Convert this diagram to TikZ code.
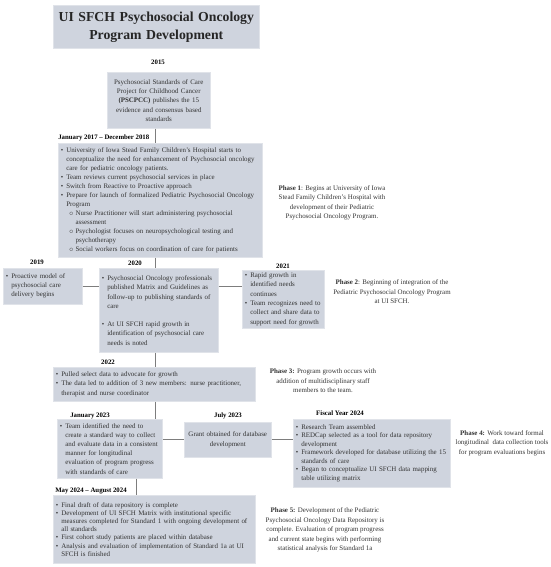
\documentclass[tikz,border=0pt]{standalone}
\usepackage{fontspec}
\setmainfont{Liberation Serif}
\usepackage{xcolor}
\usepackage{tikz}
\usetikzlibrary{calc}

\definecolor{boxfill}{RGB}{207,212,222}
\definecolor{boxline}{RGB}{224,227,233}
\definecolor{linkgray}{RGB}{125,125,125}
\definecolor{txtgray}{RGB}{50,50,50}

\newcommand{\bl}{\makebox[4pt][l]{\textbullet}}
\newcommand{\ind}{\hspace*{4pt}}
\newcommand{\sbl}{\hspace*{6pt}\makebox[5pt][l]{$\scriptscriptstyle\circ$}}
\newcommand{\sind}{\hspace*{11pt}}

\begin{document}
\begin{tikzpicture}[x=0.75pt,y=0.75pt,yscale=-1,xscale=1,
  tlbox/.style={fill=boxfill, draw=boxline, line width=0.4pt, anchor=north west, inner xsep=2pt, inner ysep=1.5pt, align=left, text=txtgray, font=\fontsize{5.2}{7}\selectfont},
  yearlbl/.style={inner sep=0.75pt, font=\fontsize{5.1}{6.5}\selectfont\bfseries},
  phasetxt/.style={align=center, inner sep=0.75pt, text=txtgray, font=\fontsize{5.2}{7.1}\selectfont},
  link/.style={draw=linkgray, line width=0.75pt}]

\useasboundingbox (0,0) rectangle (550,567);

\coordinate (spine) at (155,0);

% boxes
\node (title) at (53,5) [tlbox, minimum width=154.5pt, minimum height=32.25pt, text width=150.5pt, align=center, text=black!85, font=\fontsize{10.3}{13.5}\selectfont\bfseries] {UI SFCH Psychosocial Oncology\\Program Development};

\node (b2015) at (107,72) [tlbox, minimum height=42pt, text width=73.25pt, align=center] {Psychosocial Standards of Care\\Project for Childhood Cancer\\\textbf{(PSCPCC)} publishes the 15\\evidence and consensus based\\standards};

\node (jan17) at (58,143) [tlbox, minimum height=85.5pt, text width=149pt, font=\fontsize{5.2}{6.75}\selectfont] {\bl University of Iowa Stead Family Children’s Hospital starts to\\
\ind conceptualize the need for enhancement of Psychosocial oncology\\
\ind care for pediatric oncology patients.\\
\bl Team reviews current psychosocial services in place\\
\bl Switch from Reactive to Proactive approach\\
\bl Prepare for launch of formalized Pediatric Psychosocial Oncology\\
\ind Program\\
\sbl Nurse Practitioner will start administering psychosocial\\
\sind assessment\\
\sbl Psychologist focuses on neuropsychological testing and\\
\sind psychotherapy\\
\sbl Social workers focus on coordination of care for patients};

\node (b2019) at (3,268) [tlbox, minimum height=27pt, text width=55.25pt, font=\fontsize{5.2}{6.75}\selectfont] {\bl Proactive model of\\\ind psychosocial care\\\ind delivery begins};

\node (b2020) at (99,268) [tlbox, minimum height=63pt, text width=85.25pt, font=\fontsize{5.2}{7.1}\selectfont] {\bl Psychosocial Oncology professionals\\
\ind published Matrix and Guidelines as\\
\ind follow-up to publishing standards of\\
\ind care\\[6pt]
\bl At UI SFCH rapid growth in\\
\ind identification of psychosocial care\\
\ind needs is noted};

\node (b2021) at (242,270) [tlbox, minimum height=43.5pt, text width=57.5pt, font=\fontsize{5.2}{7}\selectfont] {\bl Rapid growth in\\
\ind identified needs\\
\ind continues\\
\bl Team recognizes need to\\
\ind collect and share data to\\
\ind support need for growth};

\node (b2022) at (53,367) [tlbox, minimum height=25.5pt, text width=147.5pt, font=\fontsize{5.2}{7.1}\selectfont] {\bl Pulled select data to advocate for growth\\
\bl The data led to addition of 3 new members: nurse practitioner,\\
\ind therapist and nurse coordinator};

\node (jan23) at (57,419) [tlbox, minimum height=44.25pt, text width=74.75pt, font=\fontsize{5.2}{6.9}\selectfont] {\bl Team identified the need to\\
\ind create a standard way to collect\\
\ind and evaluate data in a consistent\\
\ind manner for longitudinal\\
\ind evaluation of program progress\\
\ind with standards of care};

\node (jul23) at (184,422) [tlbox, minimum height=26.25pt, text width=61.25pt, align=center] {Grant obtained for database\\development};

\node (fy24) at (293,419) [tlbox, minimum height=51pt, text width=114pt, font=\fontsize{5.2}{6.4}\selectfont] {\bl Research Team assembled\\
\bl REDCap selected as a tool for data repository\\
\ind development\\
\bl Framework developed for database utilizing the 15\\
\ind standards of care\\
\bl Began to conceptualize UI SFCH data mapping\\
\ind table utilizing matrix};

\node (may24) at (53,495) [tlbox, minimum height=51pt, text width=147.5pt, font=\fontsize{5.2}{6.15}\selectfont] {\bl Final draft of data repository is complete\\
\bl Development of UI SFCH Matrix with institutional specific\\
\ind measures completed for Standard 1 with ongoing development of\\
\ind all standards\\
\bl First cohort study patients are placed within database\\
\bl Analysis and evaluation of implementation of Standard 1a at UI\\
\ind SFCH is finished};

% year labels
\node (l2015) at (158,62) [yearlbl] {2015};
\node (l2017) at (57,138) [yearlbl, anchor=west] {January 2017 – December 2018};
\node (l2019) at (37,262) [yearlbl] {2019};
\node (l2020) at (135,263) [yearlbl] {2020};
\node (l2021) at (283,266) [yearlbl] {2021};
\node (l2022) at (108,362) [yearlbl] {2022};
\node (ljan23) at (90,416) [yearlbl] {January 2023};
\node (ljul23) at (228,416) [yearlbl] {July 2023};
\node (lfy24) at (340,413) [yearlbl] {Fiscal Year 2024};
\node (lmay24) at (54,491) [yearlbl, anchor=west] {May 2024 – August 2024};

% phases
\node (ph1) at (332,203) [phasetxt] {\textbf{Phase 1}: Begins at University of Iowa\\Stead Family Children’s Hospital with\\development of their Pediatric\\Psychosocial Oncology Program.};
\node (ph2) at (392,292) [phasetxt] {\textbf{Phase 2}: Beginning of integration of the\\Pediatric Psychosocial Oncology Program\\at UI SFCH.};
\node (ph3) at (323,381) [phasetxt] {\textbf{Phase 3:} Program growth occurs with\\addition of multidisciplinary staff\\members to the team.};
\node (ph4) at (502,443) [phasetxt] {\textbf{Phase 4:} Work toward formal\\longitudinal\ \ data collection tools\\for program evaluations begins};
\node (ph5) at (325,530) [phasetxt] {\textbf{Phase 5:} Development of the Pediatric\\Psychosocial Oncology Data Repository is\\complete. Evaluation of program progress\\and current state begins with performing\\statistical analysis for Standard 1a};

% connectors
\coordinate (drop) at ($(jan23.south)+(27,0)$);
\draw [link] (spine |- b2015.south) -- (spine |- jan17.north);
\draw [link] (spine |- jan17.south) -- (spine |- b2020.north);
\draw [link] (b2019.east) -- (b2019.east -| b2020.west);
\draw [link] (b2019.east -| b2020.east) -- (b2019.east -| b2021.west);
\draw [link] (spine |- b2020.south) -- (spine |- b2022.north);
\draw [link] (spine |- b2022.south) -- (spine |- jan23.north);
\draw [link] (jul23.west -| jan23.east) -- (jul23.west);
\draw [link] (jul23.east) -- (jul23.east -| fy24.west);
\draw [link] (drop) -- (drop |- may24.north);

\end{tikzpicture}
\end{document}
